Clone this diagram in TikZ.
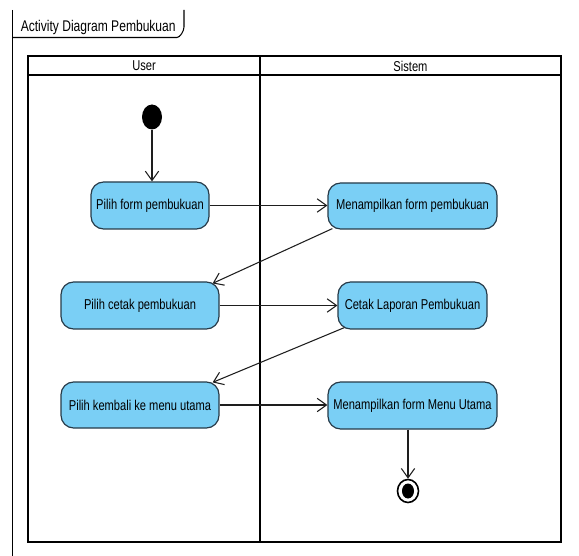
\documentclass[tikz,border=0pt]{standalone}
\usepackage{fontspec}
\setmainfont{Liberation Sans}[FakeStretch=0.78]
\usetikzlibrary{arrows.meta,shapes.geometric,calc}
\definecolor{actfill}{RGB}{122,207,245}
\definecolor{actline}{RGB}{38,58,72}
\definecolor{flowline}{RGB}{30,30,30}
\begin{document}
\begin{tikzpicture}[x=0.75pt,y=-0.75pt,
  act/.style={draw=actline,fill=actfill,line width=0.9pt,rounded corners=9.5pt,
    inner sep=0pt,align=center,font=\fontsize{10.7pt}{12pt}\selectfont},
  flow/.style={draw=flowline,line width=0.8pt,
    -{Straight Barb[length=7pt,width=10pt,line width=0.8pt,line cap=butt]}},
  lane/.style={draw=black,line width=1.7pt},
  lanetitle/.style={font=\fontsize{10.7pt}{12pt}\selectfont,inner sep=0pt}]
\useasboundingbox (0,0) rectangle (579,556);

% diagram frame with its name tab
\draw[line width=0.8pt] (12.5,10) -- (12.5,556);
\draw[line width=0.8pt] (12.5,37.5) -- (177,37.5)
  .. controls (180,37.5) and (184,31) .. (184,27) -- (184,10);
\node[anchor=base west,inner sep=0pt,font=\fontsize{11.6pt}{13pt}\selectfont]
  (title) at (20.5,32) {Activity Diagram Pembukuan};

% swimlanes
\draw[lane] (28,56) rectangle (561,542);
\draw[lane] (28,75) -- (561,75);
\draw[lane] (260,56) -- (260,542);
\node[lanetitle] (userlane) at (144,66) {User};
\node[lanetitle] (sistemlane) at (410.5,66) {Sistem};

% initial node
\node[ellipse,fill=black,inner sep=0pt,minimum width=20*0.75pt,minimum height=25*0.75pt]
  (start) at (152,117) {};

% actions
\node[act,minimum width=118*0.75pt,minimum height=47*0.75pt] (a1) at (150,205.5) {Pilih form pembukuan};
\node[act,minimum width=169*0.75pt,minimum height=46*0.75pt] (b1) at (412.5,206) {Menampilkan form pembukuan};
\node[act,minimum width=158*0.75pt,minimum height=47*0.75pt] (a2) at (140,305.5) {Pilih cetak pembukuan};
\node[act,minimum width=149*0.75pt,minimum height=47*0.75pt] (b2) at (412.5,305.5) {Cetak Laporan Pembukuan};
\node[act,minimum width=158*0.75pt,minimum height=46*0.75pt] (a3) at (140,405) {Pilih kembali ke menu utama};
\node[act,minimum width=169*0.75pt,minimum height=47*0.75pt] (b3) at (412.5,405.5) {Menampilkan form Menu Utama};

% final node
\node[ellipse,draw=black,line width=1.2pt,fill=white,inner sep=0pt,
  minimum width=21*0.75pt,minimum height=23*0.75pt] (end) at (408,491) {};
\node[ellipse,fill=black,inner sep=0pt,minimum width=12*0.75pt,minimum height=15*0.75pt]
  (endcore) at (end.center) {};

% control flows
\draw[flow] (start.south) -- (start.south |- a1.north);
\draw[flow] (a1.east) -- (a1.east -| b1.west);
\draw[flow] ($(b1.south west)+(5,-1)$) -- ($(a2.north east)+(-7,2)$);
\draw[flow] (a2.east) -- (a2.east -| b2.west);
\draw[flow] ($(b2.south west)+(7,-2)$) -- ($(a3.north east)+(-7,1)$);
\draw[flow] (a3.east) -- (a3.east -| b3.west);
\draw[flow] (end.north |- b3.south) -- (end.north);
\end{tikzpicture}
\end{document}
